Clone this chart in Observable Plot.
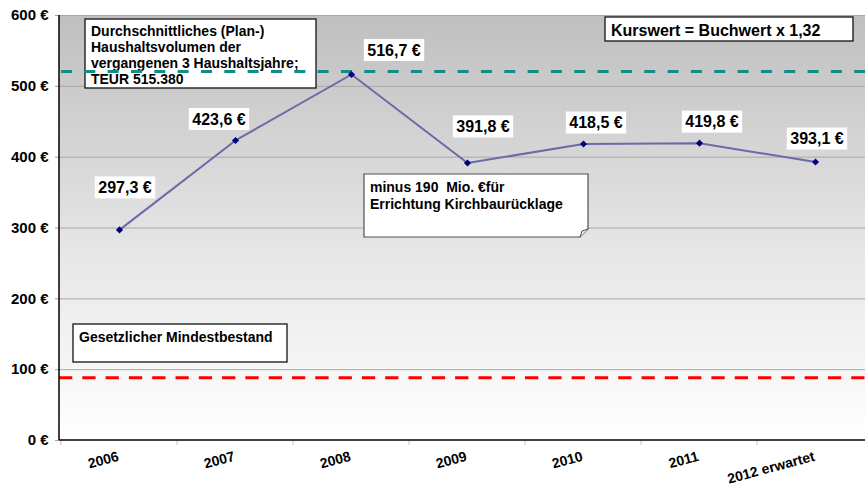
<!DOCTYPE html>
<html><head><meta charset="utf-8">
<script src="https://cdn.jsdelivr.net/npm/d3@7"></script>
<script src="https://cdn.jsdelivr.net/npm/@observablehq/plot@0.6"></script>
<style>
body{margin:0;background:#fff}
#chart svg{display:block}
g[aria-label="y-axis tick"]{stroke:#a0a0a0}
</style></head><body><div id="chart"></div>
<script>
// ---- data ----
const years = ["2006", "2007", "2008", "2009", "2010", "2011", "2012 erwartet"];
const values = [297.3, 423.6, 516.7, 391.8, 418.5, 419.8, 393.1];
const yTicks = [0, 100, 200, 300, 400, 500, 600];
const gridTicks = [100, 200, 300, 400, 500, 600];
const avgVolume = [521];      // Durchschnittliches Haushaltsvolumen (teal)
const minReserve = [88.5];    // Gesetzlicher Mindestbestand (red)
const avgText = ["Durchschnittliches (Plan-)", "Haushaltsvolumen der", "vergangenen 3 Haushaltsjahre;", "TEUR 515.380"];
const minText = ["Gesetzlicher Mindestbestand"];
const kursText = ["Kurswert = Buchwert x 1,32"];
const noteText = ["minus 190  Mio. \u20acf\u00fcr", "Errichtung Kirchbaur\u00fccklage"];

// ---- layout (pixel offsets / boxes) ----
const labelOffsets = [[6, -42], [-16, -21], [43, -24], [16, -36], [13, -21], [13, -21], [2, -23]];
const bandStep = 116.67;
const FONT = "'Liberation Sans', Arial, Helvetica, sans-serif";
const boxesBelow = [
  {lines: avgText, x: 85, y: 19, w: 231, h: 69, size: 14, lead: 16, base: 17, stroke: "#111", sy: 1.1},
  {lines: minText, x: 73, y: 324, w: 214, h: 38, size: 14, lead: 16, base: 18, stroke: "#111", sy: 1.1}
];
const boxesAbove = [
  {lines: kursText, x: 605, y: 17, w: 248, h: 24, size: 16, lead: 18, base: 19, stroke: "#111", sy: 1},
  {lines: noteText, x: 364, y: 174, w: 224, h: 63, size: 14, lead: 17, base: 18, stroke: "#505050", fold: true, sy: 1.1}
];

const rows = years.map((d, i) => ({year: d, value: values[i]}));
const fmt = v => d3.format(".1f")(v).replace(".", ",") + " \u20ac";

function ra(args) {
  return args.length >= 4 ? {scales: args[1], dims: args[3]} : {scales: args[0], dims: args[1]};
}
const ctx = document.createElement("canvas").getContext("2d");
function measure(t, size) { ctx.font = `bold ${size}px 'Liberation Sans', Arial`; return ctx.measureText(t).width; }

function background(...args) {
  const {dims} = ra(args);
  const g = d3.create("svg:g");
  const grad = g.append("defs").append("linearGradient").attr("id", "bgGrad")
    .attr("x1", 0).attr("y1", 0).attr("x2", 0).attr("y2", 1);
  grad.append("stop").attr("offset", "0%").attr("stop-color", "#bfbfbf");
  grad.append("stop").attr("offset", "55%").attr("stop-color", "#e6e6e6");
  grad.append("stop").attr("offset", "100%").attr("stop-color", "#ffffff");
  g.append("rect").attr("x", dims.marginLeft).attr("y", dims.marginTop)
    .attr("width", dims.width - dims.marginLeft - dims.marginRight)
    .attr("height", dims.height - dims.marginTop - dims.marginBottom)
    .attr("fill", "url(#bgGrad)");
  return g.node();
}

function axesLines(...args) {
  const {scales, dims} = ra(args);
  const g = d3.create("svg:g");
  const x0 = dims.marginLeft, yb = dims.height - dims.marginBottom;
  years.forEach(y => {
    g.append("line").attr("x1", scales.x(y)).attr("x2", scales.x(y)).attr("y1", yb).attr("y2", yb + 5)
      .attr("stroke", "#c0c0c0").attr("stroke-width", 1);
  });
  g.append("line").attr("x1", x0).attr("x2", x0).attr("y1", dims.marginTop).attr("y2", yb)
    .attr("stroke", "#000").attr("stroke-width", 1.5);
  g.append("line").attr("x1", x0).attr("x2", dims.width).attr("y1", yb).attr("y2", yb)
    .attr("stroke", "#000").attr("stroke-width", 1.5);
  return g.node();
}

function boxMark(list) {
  return function() {
    const g = d3.create("svg:g");
    list.forEach(b => {
      const r = b.x + b.w, bt = b.y + b.h;
      if (b.fold) {
        g.append("path").attr("d", `M${b.x},${b.y}H${r}V${bt - 8}L${r - 8},${bt}H${b.x}Z`)
          .attr("fill", "#fff").attr("stroke", b.stroke).attr("stroke-width", 1.2);
        g.append("path").attr("d", `M${r},${bt - 8}L${r - 6},${bt - 6}L${r - 8},${bt}`)
          .attr("fill", "#eee").attr("stroke", b.stroke).attr("stroke-width", 1);
      } else {
        g.append("rect").attr("x", b.x).attr("y", b.y).attr("width", b.w).attr("height", b.h)
          .attr("fill", "#fff").attr("stroke", b.stroke).attr("stroke-width", 1.3);
      }
      b.lines.forEach((t, i) => {
        g.append("text")
          .attr("transform", `translate(${b.x + 6},${b.y + b.base + i * b.lead}) scale(1,${b.sy})`)
          .attr("text-anchor", "start")
          .attr("font-family", FONT).attr("font-weight", "bold").attr("font-size", b.size)
          .attr("fill", "#000").style("white-space", "pre").text(t);
      });
    });
    return g.node();
  };
}

function valueLabels(...args) {
  const {scales} = ra(args);
  const bw = scales.x.bandwidth ? scales.x.bandwidth() : 0;
  const g = d3.create("svg:g");
  rows.forEach((d, i) => {
    const cx = scales.x(d.year) + bw / 2 + labelOffsets[i][0];
    const cy = scales.y(d.value) + labelOffsets[i][1];
    const t = fmt(d.value);
    const w = measure(t, 16) + 7;
    g.append("rect").attr("x", cx - w / 2).attr("y", cy - 11).attr("width", w).attr("height", 22).attr("fill", "#fff");
    g.append("text").attr("x", cx).attr("y", cy).attr("dy", "0.36em").attr("text-anchor", "middle")
      .attr("font-family", FONT).attr("font-weight", "bold").attr("font-size", 16).attr("fill", "#000").text(t);
  });
  return g.node();
}

const chart = Plot.plot({
  width: 865,
  height: 488,
  marginTop: 15,
  marginBottom: 48,
  marginLeft: 59,
  marginRight: 0,
  style: {fontFamily: FONT, fontWeight: "bold", fontSize: "15px", color: "#000", background: "#fff", overflow: "visible"},
  x: {type: "band", domain: years, range: [59, 59 + years.length * bandStep], padding: 0, axis: null},
  y: {domain: [0, 600], ticks: yTicks, tickFormat: d => `${d} \u20ac`, tickSize: 4, tickPadding: 7, label: null},
  marks: [
    background,
    Plot.ruleY(gridTicks, {stroke: "#a8a8a8", strokeWidth: 1}),
    Plot.ruleY(minReserve, {stroke: "#ff0000", strokeWidth: 3, strokeDasharray: "13.3,10"}),
    axesLines,
    boxMark(boxesBelow),
    Plot.ruleY(avgVolume, {stroke: "#138c86", strokeWidth: 3, strokeDasharray: "11,12.33", strokeDashoffset: -2}),
    boxMark(boxesAbove),
    Plot.line(rows, {x: "year", y: "value", stroke: "#6a6aa8", strokeWidth: 2}),
    Plot.dot(rows, {x: "year", y: "value", symbol: "diamond2", r: 3.2, fill: "#000080", stroke: "none"}),
    valueLabels,
    Plot.text(years, {x: d => d, frameAnchor: "bottom", dy: 20, rotate: -15, textAnchor: "end", fontSize: 14, fill: "#000"})
  ]
});
document.getElementById("chart").appendChild(chart);
</script>
</body></html>
